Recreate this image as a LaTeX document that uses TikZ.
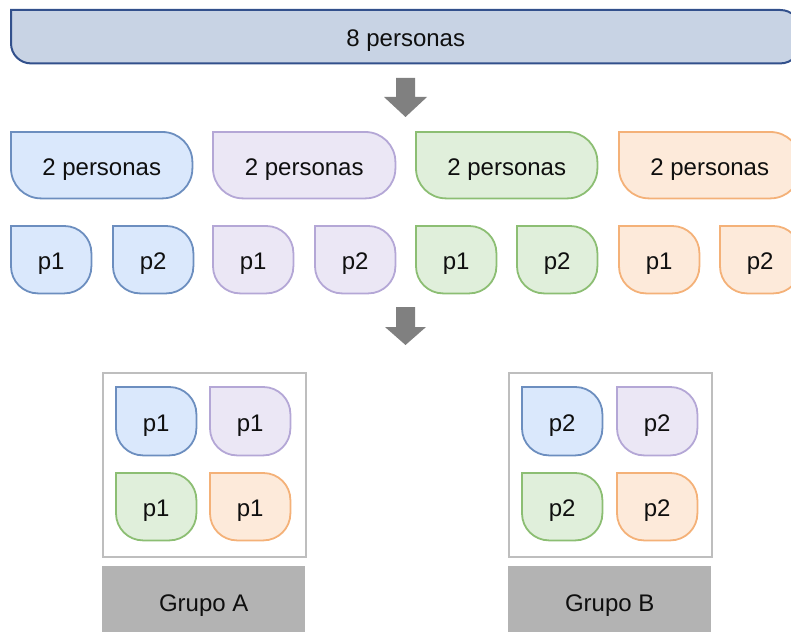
\documentclass[tikz,border=0pt]{standalone}
\usepackage{fontspec}
\setmainfont{Liberation Sans}
\usetikzlibrary{backgrounds}
\definecolor{barfill}{RGB}{200,211,228}
\definecolor{bardraw}{RGB}{50,80,140}
\definecolor{bluefill}{RGB}{218,232,252}
\definecolor{bluedraw}{RGB}{108,142,191}
\definecolor{purpfill}{RGB}{235,231,245}
\definecolor{purpdraw}{RGB}{180,167,214}
\definecolor{greenfill}{RGB}{224,239,219}
\definecolor{greendraw}{RGB}{140,190,115}
\definecolor{orangefill}{RGB}{253,234,218}
\definecolor{orangedraw}{RGB}{244,177,120}
\definecolor{arrowgray}{RGB}{128,128,128}
\definecolor{labelgray}{RGB}{179,179,179}
\definecolor{framegray}{RGB}{190,190,190}
\definecolor{txtcol}{RGB}{15,15,15}
\tikzset{
  txt/.style={inner sep=0pt, text=txtcol, font=\fontsize{24}{28}\selectfont, text height=20pt, text depth=0pt},
  tagbar/.style={fill=barfill, draw=bardraw, line width=2pt},
  tagblue/.style={fill=bluefill, draw=bluedraw, line width=1.8pt},
  tagpurp/.style={fill=purpfill, draw=purpdraw, line width=1.8pt},
  taggreen/.style={fill=greenfill, draw=greendraw, line width=1.8pt},
  tagorange/.style={fill=orangefill, draw=orangedraw, line width=1.8pt},
  bigarrow/.style={fill=arrowgray, draw=none},
  frame/.style={draw=framegray, line width=2pt, inner sep=0pt},
  grouplabel/.style={txt, fill=labelgray, text height=18pt}
}
\newcommand{\tagshape}[3]{%
  \begin{pgfonlayer}{background}
  \draw[#3] (#1.north west) -- ([xshift=-#2]#1.north east)
    arc[start angle=90,end angle=0,radius=#2] -- ([yshift=#2]#1.south east)
    arc[start angle=0,end angle=-90,radius=#2] -- ([xshift=#2]#1.south west)
    arc[start angle=270,end angle=180,radius=#2] -- cycle;
  \end{pgfonlayer}}
% name, x1, y1, x2, y2, radius, style, text
\newcommand{\tagnode}[8]{%
  \node[txt, anchor=north west, minimum width={(#4-#2)*1pt}, minimum height={(#5-#3)*1pt}] (#1) at (#2,-#3) {#8};
  \tagshape{#1}{#6}{#7}}
\begin{document}
\begin{tikzpicture}[x=1pt,y=1pt]
\clip (0,0) rectangle (791,-631);
\useasboundingbox (0,0) rectangle (791,-631);
% top bar
\tagnode{top}{11}{10}{800}{63}{20pt}{tagbar}{8 personas}
% arrow 1
\fill[bigarrow] (396,-78) -- (415,-78) -- (415,-97) -- (427,-97) -- (405.5,-117) -- (384,-97) -- (396,-97) -- cycle;
% 2 personas row
\tagnode{g1}{11}{132}{192}{198}{30pt}{tagblue}{2 personas}
\tagnode{g2}{213}{132}{395}{198}{30pt}{tagpurp}{2 personas}
\tagnode{g3}{416}{132}{597}{198}{30pt}{taggreen}{2 personas}
\tagnode{g4}{619}{132}{800}{198}{30pt}{tagorange}{2 personas}
% p row
\tagnode{b1}{11}{226}{91}{293}{27pt}{tagblue}{p1}
\tagnode{b2}{113}{226}{193}{293}{27pt}{tagblue}{p2}
\tagnode{u1}{213}{226}{293}{293}{27pt}{tagpurp}{p1}
\tagnode{u2}{315}{226}{395}{293}{27pt}{tagpurp}{p2}
\tagnode{e1}{416}{226}{496}{293}{27pt}{taggreen}{p1}
\tagnode{e2}{517}{226}{597}{293}{27pt}{taggreen}{p2}
\tagnode{o1}{619}{226}{699}{293}{27pt}{tagorange}{p1}
\tagnode{o2}{720}{226}{800}{293}{27pt}{tagorange}{p2}
% arrow 2
\fill[bigarrow] (396,-307) -- (415,-307) -- (415,-327) -- (426,-327) -- (405.5,-345) -- (385,-327) -- (396,-327) -- cycle;
% group A
\node[frame, anchor=north west, minimum width=203pt, minimum height=184pt] (frameA) at (102,-372) {};
\tagnode{a1}{116}{387}{196}{455}{27pt}{tagblue}{p1}
\tagnode{a2}{210}{387}{290}{455}{27pt}{tagpurp}{p1}
\tagnode{a3}{116}{473}{196}{540}{27pt}{taggreen}{p1}
\tagnode{a4}{210}{473}{290}{540}{27pt}{tagorange}{p1}
\node[grouplabel, anchor=north west, minimum width=203pt, minimum height=72pt] (labA) at (102,-566) {Grupo A};
% group B
\node[frame, anchor=north west, minimum width=203pt, minimum height=184pt] (frameB) at (508,-372) {};
\tagnode{c1}{522}{387}{602}{455}{27pt}{tagblue}{p2}
\tagnode{c2}{617}{387}{697}{455}{27pt}{tagpurp}{p2}
\tagnode{c3}{522}{473}{602}{540}{27pt}{taggreen}{p2}
\tagnode{c4}{617}{473}{697}{540}{27pt}{tagorange}{p2}
\node[grouplabel, anchor=north west, minimum width=203pt, minimum height=72pt] (labB) at (508,-566) {Grupo B};
\end{tikzpicture}
\end{document}
